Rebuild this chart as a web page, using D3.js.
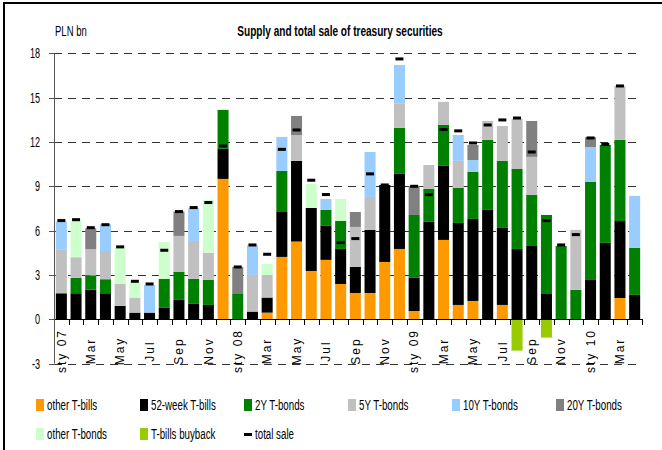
<!DOCTYPE html>
<html>
<head>
<meta charset="utf-8">
<script src="https://cdn.jsdelivr.net/npm/d3@7"></script>
<style>
  body { margin: 0; background: #fff; }
  svg { display: block; font-family: "Liberation Sans", Arial, sans-serif; }
</style>
</head>
<body>
<script>
// months Jan 2007 - Apr 2010
const categories = ["Jan 07","Feb 07","Mar 07","Apr 07","May 07","Jun 07","Jul 07","Aug 07","Sep 07","Oct 07","Nov 07","Dec 07",
  "Jan 08","Feb 08","Mar 08","Apr 08","May 08","Jun 08","Jul 08","Aug 08","Sep 08","Oct 08","Nov 08","Dec 08",
  "Jan 09","Feb 09","Mar 09","Apr 09","May 09","Jun 09","Jul 09","Aug 09","Sep 09","Oct 09","Nov 09","Dec 09",
  "Jan 10","Feb 10","Mar 10","Apr 10"];
const tickLabels = ["sty 07","","Mar","","May","","Jul","","Sep","","Nov","",
  "sty 08","","Mar","","May","","Jul","","Sep","","Nov","",
  "sty 09","","Mar","","May","","Jul","","Sep","","Nov","",
  "sty 10","","Mar",""];
const yTicks = [-3, 0, 3, 6, 9, 12, 15, 18];

const otherBills = [0,0,0,0,0,0,0,0,0,0,0,9.5,0,0,0.45,4.22,5.26,3.27,4.02,2.39,1.78,1.78,3.88,4.76,0.56,0,5.37,0.97,1.24,0,0.97,0,0,0,0,0,0,0,1.44,0];
const week52 = [1.76,1.76,2.0,1.76,0.9,0.45,0.45,0.77,1.31,1.04,0.97,2.03,0,0.52,1.02,3.04,5.46,4.26,2.3,2.37,1.76,4.27,5.21,5.08,2.24,6.59,5.01,5.55,5.55,7.4,5.21,4.76,4.96,1.71,0,0,2.66,5.17,5.21,1.65];
const bonds2y = [0,1.04,0.98,0.95,0,0,0,1.96,1.89,1.69,1.69,2.64,1.76,0,0,2.78,0,0,1.08,1.89,0,0,0,3.11,4.26,2.23,2.77,2.37,3.18,4.74,4.54,5.41,3.45,5.35,4.96,1.99,6.63,6.63,5.49,3.18];
const bonds5y = [2.98,1.4,1.76,1.91,1.49,1.02,0,0,2.44,2.57,1.85,0,0,2.48,1.53,0,1.75,0,0,0,2.71,2.23,0,1.67,0,1.62,1.56,1.83,0,1.28,2.36,3.39,2.58,0,0,4.06,0,0,3.65,0];
const bonds10y = [1.87,0,0,1.81,0,0,1.87,0,0,2.21,0,0,0,2.0,0,2.3,0,0,0.74,0,0,3.04,0,2.59,0,0,0,1.75,0.81,0,0,0,0,0,0,0,2.37,0,0,3.52];
const bonds20y = [0,0,1.42,0,0,0,0,0,1.65,0,0,0,1.78,0,0,0,1.29,0,0,0,1.01,0,0,0,1.96,0,0,0,1.02,0,0,0,2.43,0,0,0,0.66,0,0,0];
const otherBonds = [0,2.48,0,0,2.48,1.03,0,2.5,0,0,3.57,0,0,0,0.74,0,0,1.63,0,1.49,0,0,0,0,0,0,0,0,0,0,0,0,0,0,0,0,0,0,0,0];
const buyback = [0,0,0,0,0,0,0,0,0,0,0,0,0,0,0,0,0,0,0,0,0,0,0,0,0,0,0,0,0,0,0,-2.12,0,-1.24,0,0,0,0,0,0];
const totalSale = [6.68,6.74,6.2,6.4,4.9,2.57,2.39,4.67,7.29,7.56,7.9,11.73,3.54,5.03,4.4,11.5,12.81,9.41,8.44,5.19,5.46,9.84,9.09,17.62,9.0,8.44,12.84,12.75,11.93,13.15,13.49,13.62,11.32,6.68,5.03,5.73,12.27,11.84,15.79,null];

const series = [
  { name: "other T-bills", values: otherBills, color: "#ff9900" },
  { name: "52-week T-bills", values: week52, color: "#000000" },
  { name: "2Y T-bonds", values: bonds2y, color: "#008000" },
  { name: "5Y T-bonds", values: bonds5y, color: "#c0c0c0" },
  { name: "10Y T-bonds", values: bonds10y, color: "#99ccff" },
  { name: "20Y T-bonds", values: bonds20y, color: "#808080" },
  { name: "other T-bonds", values: otherBonds, color: "#ccffcc" },
  { name: "T-bills buyback", values: buyback, color: "#99cc00" }
];

const w = 662, h = 450;
const svg = d3.select("body").append("svg").attr("width", w).attr("height", h);

// outer frame (only top and left edges show)
svg.append("rect")
  .attr("x", 4).attr("y", 3).attr("width", 700).attr("height", 500)
  .attr("fill", "none").attr("stroke", "#000").attr("stroke-width", 2);

const x = d3.scaleBand().domain(categories).range([54, 642]).paddingInner(0.25).paddingOuter(0.125);
const y = d3.scaleLinear().domain([-3, 18]).range([363.6, 53.3]);

// squeezed text, the original uses a very narrow face
function text(g, tx, ty, str, size, k, anchor, weight) {
  return g.append("text")
    .attr("transform", `translate(${tx},${ty}) scale(${k},1)`)
    .attr("text-anchor", anchor || "start")
    .attr("font-size", size)
    .attr("font-weight", weight || "normal")
    .attr("fill", "#000")
    .text(str);
}

// gridlines
svg.append("g").selectAll("line")
  .data(yTicks.filter(d => d !== 0))
  .join("line")
  .attr("x1", 54).attr("x2", 642)
  .attr("y1", d => Math.round(y(d)) + 0.5).attr("y2", d => Math.round(y(d)) + 0.5)
  .attr("stroke", "#333").attr("stroke-dasharray", "8,6");

// stacked bars
const rows = categories.map((c, i) => {
  const r = { cat: c };
  series.forEach(s => { r[s.name] = s.values[i]; });
  return r;
});
const stack = d3.stack().keys(series.map(s => s.name)).offset(d3.stackOffsetDiverging);
const layers = stack(rows);

svg.append("g").selectAll("g")
  .data(layers)
  .join("g")
  .attr("fill", (d, i) => series[i].color)
  .selectAll("rect")
  .data(d => d.filter(p => p[1] !== p[0]))
  .join("rect")
  .attr("x", d => x(d.data.cat))
  .attr("width", x.bandwidth())
  .attr("y", d => y(Math.max(d[0], d[1])))
  .attr("height", d => Math.abs(y(d[0]) - y(d[1])));

// total sale markers
svg.append("g").selectAll("rect")
  .data(categories.map((c, i) => ({ cat: c, v: totalSale[i] })).filter(d => d.v != null))
  .join("rect")
  .attr("x", d => x(d.cat) + x.bandwidth() / 2 - 4)
  .attr("width", 8)
  .attr("y", d => y(d.v) - 1.5)
  .attr("height", 3)
  .attr("fill", "#000");

// x axis with ticks between categories
const step = x.step();
const xAxis = svg.append("g");
xAxis.append("line")
  .attr("x1", 54).attr("x2", 642)
  .attr("y1", Math.round(y(0)) + 0.5).attr("y2", Math.round(y(0)) + 0.5)
  .attr("stroke", "#000");
xAxis.selectAll("line.tick")
  .data(d3.range(categories.length + 1))
  .join("line")
  .attr("class", "tick")
  .attr("x1", i => Math.round(54 + i * step) + 0.5)
  .attr("x2", i => Math.round(54 + i * step) + 0.5)
  .attr("y1", Math.round(y(0))).attr("y2", Math.round(y(0)) + 6)
  .attr("stroke", "#000");
xAxis.selectAll("text")
  .data(categories.map((c, i) => ({ cat: c, lab: tickLabels[i] })).filter(d => d.lab))
  .join("text")
  .attr("transform", d => `translate(${x(d.cat) + x.bandwidth() / 2},351) rotate(-90)`)
  .attr("text-anchor", "middle")
  .attr("dy", "0.35em")
  .attr("font-size", 12)
  .attr("letter-spacing", 2)
  .text(d => d.lab);

// y axis
const yAxis = svg.append("g");
yAxis.append("line")
  .attr("x1", 54.5).attr("x2", 54.5)
  .attr("y1", y(18)).attr("y2", y(-3))
  .attr("stroke", "#555");
yAxis.selectAll("line.tick")
  .data(yTicks)
  .join("line")
  .attr("class", "tick")
  .attr("x1", 49).attr("x2", 55)
  .attr("y1", d => Math.round(y(d)) + 0.5).attr("y2", d => Math.round(y(d)) + 0.5)
  .attr("stroke", "#555");
yTicks.forEach(t => {
  text(yAxis, 40, y(t) + 5, t, 14, 0.65, "end");
});

// titles
text(svg, 55, 36, "PLN bn", 14, 0.68);
text(svg, 340, 36, "Supply and total sale of treasury securities", 14, 0.72, "middle", "bold");

// legend
const legendItems = series.map(s => ({ name: s.name, color: s.color, type: "box" }))
  .concat([{ name: "total sale", color: "#000", type: "dash" }]);
const legend = svg.append("g");
legendItems.forEach((d, i) => {
  const col = i % 6, row = Math.floor(i / 6);
  const lx = 36 + col * 104, ly = 399 + row * 29;
  if (d.type === "box") {
    legend.append("rect").attr("x", lx).attr("y", ly).attr("width", 8).attr("height", 12).attr("fill", d.color);
  } else {
    legend.append("rect").attr("x", lx).attr("y", ly + 5).attr("width", 8).attr("height", 3).attr("fill", d.color);
  }
  text(legend, lx + 11, ly + 11, d.name, 15, 0.65);
});
</script>
</body>
</html>
